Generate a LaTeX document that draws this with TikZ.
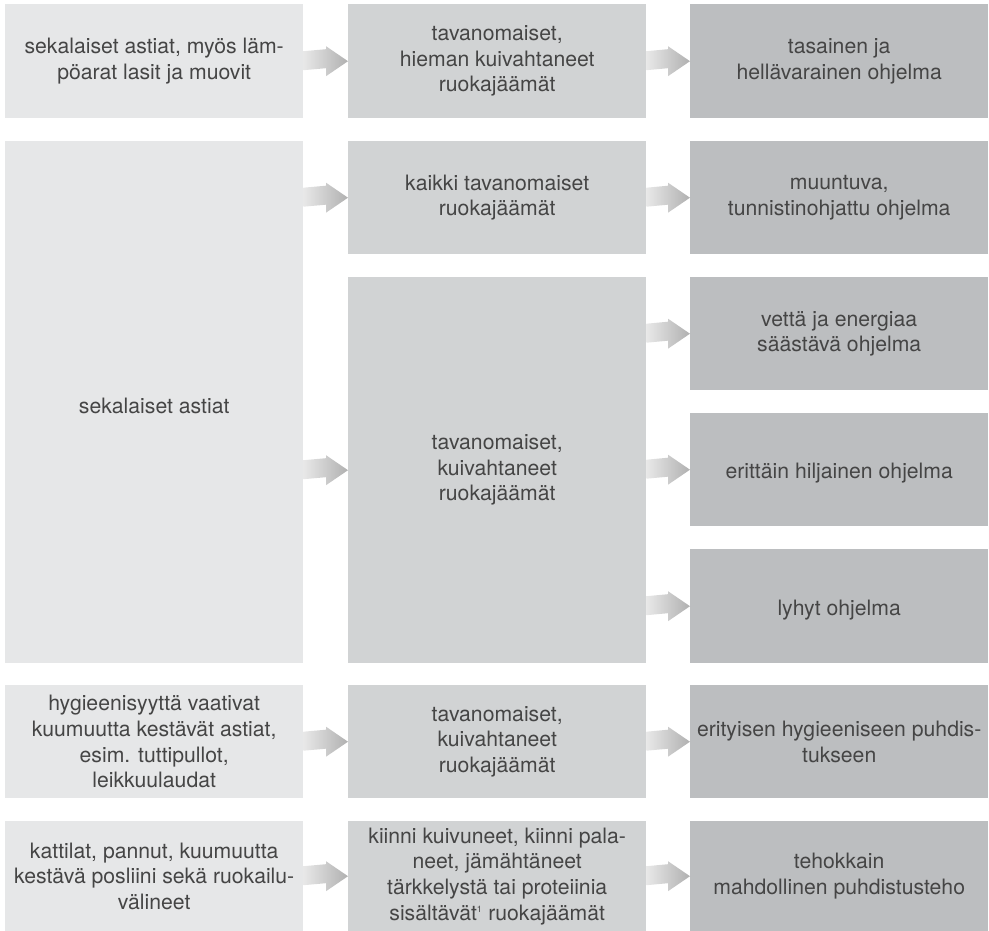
\documentclass[tikz,border=0pt]{standalone}
\usepackage{fontspec}
\setmainfont{TeX Gyre Heros}
\usetikzlibrary{calc}

\definecolor{boxlight}{HTML}{E6E7E8}
\definecolor{boxmid}{HTML}{D1D3D4}
\definecolor{boxdark}{HTML}{BCBEC0}
\definecolor{textgray}{HTML}{454545}
\definecolor{arrowlight}{HTML}{E8E8E8}
\definecolor{arrowdark}{HTML}{B0B0B0}

\newcommand{\flowarrow}[2]{%
	\shade[left color=arrowlight, right color=arrowdark]
		($(#2.west -| #1.east)+(0,-10)$) -- ($(#2.west)+(-22,-12)$) -- ($(#2.west)+(-22,-15)$) -- (#2.west)
		-- ($(#2.west)+(-22,15)$) -- ($(#2.west)+(-22,7)$) -- ($(#2.west -| #1.east)+(0,9)$) -- cycle;}

\begin{document}
\begin{tikzpicture}[x=1pt, y=-1pt,
	every node/.style={font=\fontsize{21.2}{25.6}\selectfont, text=textgray, align=center, anchor=north west, inner sep=0pt, minimum width=298pt,
		execute at begin node={\rule{0pt}{23pt}}},
	dishbox/.style={fill=boxlight},
	soilbox/.style={fill=boxmid},
	progbox/.style={fill=boxdark}]
	\useasboundingbox (0,0) rectangle (989,931);
	\node[dishbox, minimum height=114pt] (dishHeat) at (5,4) {sekalaiset astiat, myös läm-\\pöarat lasit ja muovit};
	\node[soilbox, minimum height=114pt] (soilLight) at (348,4) {tavanomaiset,\\hieman kuivahtaneet\\ruokajäämät};
	\node[progbox, minimum height=114pt] (progGentle) at (690,4) {tasainen ja\\hellävarainen ohjelma};
	\node[dishbox, minimum height=522pt] (dishMixed) at (5,141) {sekalaiset astiat};
	\node[soilbox, minimum height=113pt] (soilAll) at (348,141) {kaikki tavanomaiset\\ruokajäämät};
	\node[soilbox, minimum height=386pt] (soilDried) at (348,277) {tavanomaiset,\\kuivahtaneet\\ruokajäämät};
	\node[progbox, minimum height=113pt] (progSensor) at (690,141) {muuntuva,\\tunnistinohjattu ohjelma};
	\node[progbox, minimum height=113pt] (progEco) at (690,277) {vettä ja energiaa\\säästävä ohjelma};
	\node[progbox, minimum height=113pt] (progQuiet) at (690,413) {erittäin hiljainen ohjelma};
	\node[progbox, minimum height=114pt] (progShort) at (690,549) {lyhyt ohjelma};
	\node[dishbox, minimum height=113pt] (dishHygiene) at (5,685) {hygieenisyyttä vaativat\\kuumuutta kestävät astiat,\\esim. tuttipullot,\\leikkuulaudat};
	\node[soilbox, minimum height=113pt] (soilHygiene) at (348,685) {tavanomaiset,\\kuivahtaneet\\ruokajäämät};
	\node[progbox, minimum height=113pt] (progHygiene) at (690,685) {erityisen hygieeniseen puhdis-\\tukseen};
	\node[dishbox, minimum height=110pt] (dishPots) at (5,821) {kattilat, pannut, kuumuutta\\kestävä posliini sekä ruokailu-\\välineet};
	\node[soilbox, minimum height=110pt] (soilBurnt) at (348,821) {kiinni kuivuneet, kiinni pala-\\neet, jämähtäneet\\tärkkelystä tai proteiinia\\sisältävät\textsuperscript{\fontsize{9}{9}\selectfont 1} ruokajäämät};
	\node[progbox, minimum height=110pt] (progIntensive) at (690,821) {tehokkain\\mahdollinen puhdistusteho};
	\flowarrow{dishHeat}{soilLight}
	\flowarrow{soilLight}{progGentle}
	\flowarrow{dishMixed}{soilAll}
	\flowarrow{dishMixed}{soilDried}
	\flowarrow{soilAll}{progSensor}
	\flowarrow{soilDried}{progEco}
	\flowarrow{soilDried}{progQuiet}
	\flowarrow{soilDried}{progShort}
	\flowarrow{dishHygiene}{soilHygiene}
	\flowarrow{soilHygiene}{progHygiene}
	\flowarrow{dishPots}{soilBurnt}
	\flowarrow{soilBurnt}{progIntensive}
\end{tikzpicture}
\end{document}
